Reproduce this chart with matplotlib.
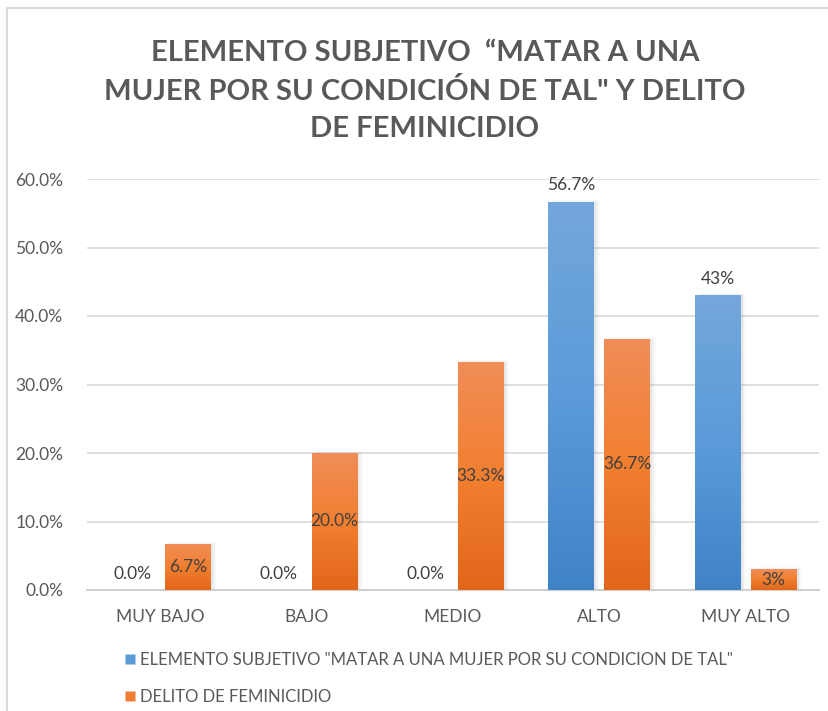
import matplotlib
matplotlib.use("Agg")
import matplotlib.pyplot as plt
import numpy as np
from matplotlib import font_manager
from matplotlib.colors import LinearSegmentedColormap
from matplotlib.patches import Rectangle
from matplotlib.lines import Line2D

categories = ["MUY BAJO", "BAJO", "MEDIO", "ALTO", "MUY ALTO"]
serie_elemento = [0.0, 0.0, 0.0, 56.7, 43.0]
serie_delito = [6.7, 20.0, 33.3, 36.7, 3.0]
labels_elemento = ["0.0%", "0.0%", "0.0%", "56.7%", "43%"]
labels_delito = ["6.7%", "20.0%", "33.3%", "36.7%", "3%"]
yticks = [0, 10, 20, 30, 40, 50, 60]
ytick_labels = ["0.0%", "10.0%", "20.0%", "30.0%", "40.0%", "50.0%", "60.0%"]
legend_labels = ['ELEMENTO SUBJETIVO "MATAR A UNA MUJER POR SU CONDICION DE TAL"',
                 "DELITO DE FEMINICIDIO"]
title = 'ELEMENTO SUBJETIVO  \u201cMATAR A UNA\nMUJER POR SU CONDICI\u00d3N DE TAL" Y DELITO\nDE FEMINICIDIO'

avail = {f.name for f in font_manager.fontManager.ttflist}
fam = "Liberation Sans Narrow" if "Liberation Sans Narrow" in avail else "Lato"
plt.rcParams["font.family"] = [fam, "DejaVu Sans"]

fig = plt.figure(figsize=(8.29, 7.11), dpi=100)
ax = fig.add_axes([87/829, 1-590/711, (819-87)/829, (590-179)/711])

x = np.arange(len(categories))
w = 0.314
off = 0.191
blue_cmap = LinearSegmentedColormap.from_list("b", ["#3F83C7", "#5B9BD9", "#74A7DC"])
orange_cmap = LinearSegmentedColormap.from_list("o", ["#E2661A", "#F27F30", "#F08D57"])

bars_e = ax.bar(x - off, serie_elemento, w, color="#5B9BD5", zorder=3)
bars_d = ax.bar(x + off, serie_delito, w, color="#ED7D31", zorder=3)

grad = np.linspace(0, 1, 256).reshape(-1, 1)
for bars, cmap in ((bars_e, blue_cmap), (bars_d, orange_cmap)):
    for b in bars:
        h = b.get_height()
        if h <= 0:
            continue
        b.set_facecolor("none")
        bx, bw = b.get_x(), b.get_width()
        for k, a in enumerate([0.10, 0.07, 0.04]):
            ax.add_patch(Rectangle((bx + 0.012 * (k + 1), 0), bw, h + 0.15 * k,
                                   facecolor="#888888", alpha=a, edgecolor="none", zorder=2))
        im = ax.imshow(grad, cmap=cmap, aspect="auto", origin="lower",
                       extent=(bx, bx + bw, 0, h), zorder=3.5)
        im.set_clip_path(b)

ax.set_xlim(-0.5, len(categories) - 0.5)
ax.set_ylim(0, 60)
ax.set_yticks(yticks)
ax.set_yticklabels(ytick_labels)
ax.set_xticks(x)
ax.set_xticklabels(categories)
ax.tick_params(axis="both", length=0, labelsize=12.5, labelcolor="#595959")
ax.tick_params(axis="y", pad=17)
ax.tick_params(axis="x", pad=14)
ax.grid(axis="y", color="#D9D9D9", linewidth=1.2, zorder=0)
ax.set_axisbelow(True)
for s in ["top", "right", "left"]:
    ax.spines[s].set_visible(False)
ax.spines["bottom"].set_color("#D0D0D0")
ax.spines["bottom"].set_linewidth(1.5)

for b, lab in zip(bars_e, labels_elemento):
    ax.annotate(lab, (b.get_x() + b.get_width() / 2, b.get_height()),
                xytext=(0, 6), textcoords="offset points", ha="center", va="bottom",
                fontsize=12.5, color="#404040", zorder=5)
for b, lab in zip(bars_d, labels_delito):
    ax.text(b.get_x() + b.get_width() / 2, b.get_height() / 2, lab,
            ha="center", va="center", fontsize=12.5, color="#404040", zorder=5)

fig.text(425/829, 1-91/711, title, ha="center", va="center", fontsize=21,
         fontweight="bold", color="#595959", linespacing=1.55)

handles = [Line2D([], [], marker="s", linestyle="none", markersize=7,
                  markerfacecolor="#5B9BD5", markeredgecolor="none"),
           Line2D([], [], marker="s", linestyle="none", markersize=7,
                  markerfacecolor="#ED7D31", markeredgecolor="none")]
fig.legend(handles, legend_labels, loc="upper left", bbox_to_anchor=(118/829, 1-645/711),
           frameon=False, fontsize=12, labelcolor="#595959", handlelength=0.6,
           handletextpad=0.3, labelspacing=1.25, borderaxespad=0)

fig.add_artist(Line2D([7/829, 7/829], [0, 1-8/711], color="#D9D9D9", linewidth=1.5,
                      transform=fig.transFigure))
fig.add_artist(Line2D([7/829, 1], [1-8/711, 1-8/711], color="#D9D9D9", linewidth=1.5,
                      transform=fig.transFigure))

fig.savefig("out.png", dpi=100)
